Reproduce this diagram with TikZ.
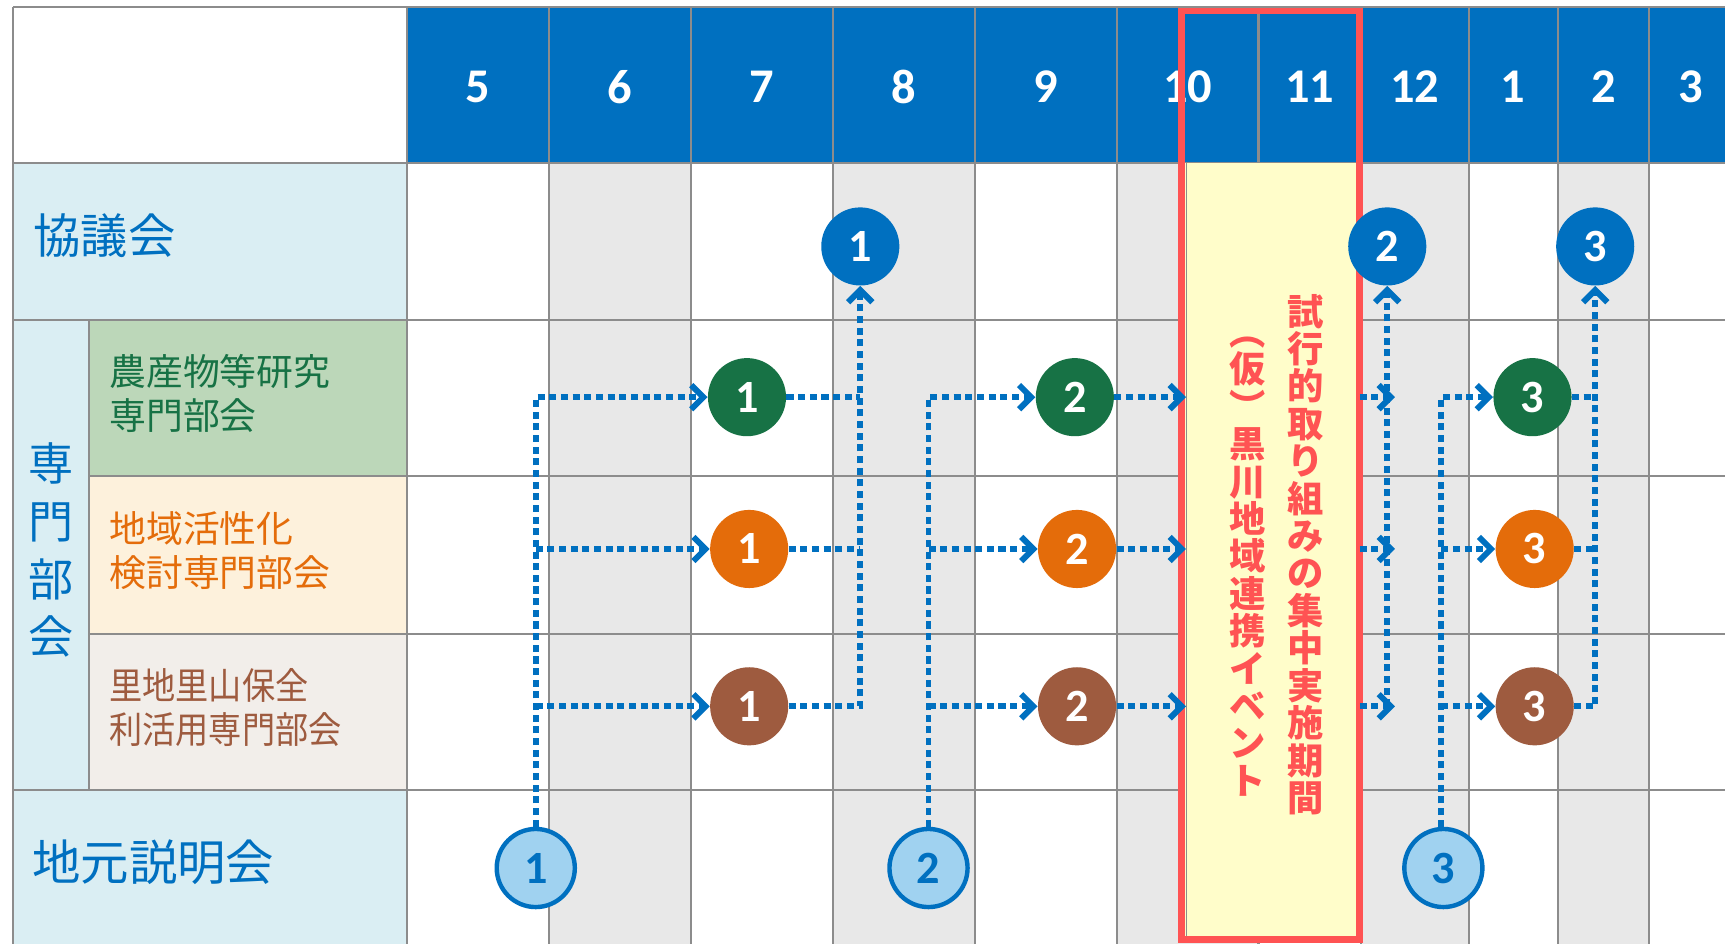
\documentclass[tikz,border=0pt]{standalone}
\usepackage{fontspec}
\newfontfamily\jp{Noto Sans CJK JP}
\newfontfamily\num{Carlito}
\usetikzlibrary{arrows.meta}
\definecolor{hdrblue}{HTML}{0070C0}
\definecolor{gridgray}{HTML}{8C8C8C}
\definecolor{colgray}{HTML}{E8E8E8}
\definecolor{lblue}{HTML}{DAEEF3}
\definecolor{lgreen}{HTML}{BCD7B9}
\definecolor{dgreen}{HTML}{177245}
\definecolor{lorange}{HTML}{FDF1DC}
\definecolor{dorange}{HTML}{E46C0A}
\definecolor{lbrown}{HTML}{F2EEEA}
\definecolor{dbrown}{HTML}{9E5B3F}
\definecolor{cblue}{HTML}{A0D2F0}
\definecolor{pyellow}{HTML}{FFFDCA}
\definecolor{pred}{HTML}{FF5353}
\begin{document}
\begin{tikzpicture}[x=0.5pt,y=-0.5pt,
  gridline/.style={draw=gridgray,line width=1pt},
  mnum/.style={text=white,inner sep=0pt,font=\num\bfseries\fontsize{22}{24}\selectfont},
  mdot/.style={circle,minimum size=35.5pt,inner sep=0pt,text=white,font=\num\bfseries\fontsize{21}{24}\selectfont},
  kyo/.style={mdot,fill=hdrblue},
  grn/.style={mdot,fill=dgreen},
  org/.style={mdot,fill=dorange},
  brn/.style={mdot,fill=dbrown},
  locdot/.style={mdot,fill=cblue,draw=hdrblue,line width=2pt,text=hdrblue},
  conn/.style={draw=hdrblue,line width=2.7pt,dash pattern=on 3.2pt off 2.1pt},
  arr/.style={-{Straight Barb[length=5.5pt,width=11pt]}},
  lbl/.style={anchor=west,inner sep=0pt,align=left},
  ptext/.style={text=pred,inner sep=0pt,align=center,font=\jp\bfseries\fontsize{16.5}{17}\selectfont},
]
\useasboundingbox (0,0) rectangle (1568,858);
\fill[white] (0,0) rectangle (1568,858);
% column shading
\foreach \a/\b in {499/628,757/886,1015/1144,1237/1335,1416/1499}
  \fill[colgray] (\a,148) rectangle (\b,858);
% header
\fill[hdrblue] (370,6) rectangle (1568,148);
% label cells
\fill[lblue] (12,148) rectangle (370,291);
\fill[lblue] (12,291) rectangle (81,718);
\fill[lgreen] (81,291) rectangle (370,433);
\fill[lorange] (81,433) rectangle (370,576);
\fill[lbrown] (81,576) rectangle (370,718);
\fill[lblue] (12,718) rectangle (370,858);
% grid
\foreach \y in {6,148,291,718} \draw[gridline] (12,\y) -- (1568,\y);
\foreach \y in {433,576} \draw[gridline] (81,\y) -- (1568,\y);
\foreach \x in {12,370,499,628,757,886,1015,1144,1237,1335,1416,1499} \draw[gridline] (\x,6) -- (\x,858);
\draw[gridline] (81,291) -- (81,718);
% month numbers
\node[mnum] (m5) at (434.5,79) {5};
\node[mnum] (m6) at (563.5,79) {6};
\node[mnum] (m7) at (692.5,79) {7};
\node[mnum] (m8) at (821.5,79) {8};
\node[mnum] (m9) at (950.5,79) {9};
\node[mnum] (m10) at (1079.5,79) {10};
\node[mnum] (m11) at (1190.5,79) {11};
\node[mnum] (m12) at (1286,79) {12};
\node[mnum] (m1) at (1375.5,79) {1};
\node[mnum] (m2) at (1457.5,79) {2};
\node[mnum] (m3) at (1537,79) {3};
% period
\fill[pyellow] (1074,148) rectangle (1236,854);
\draw[gridgray,line width=0.5pt] (1078.5,148) -- (1078.5,851);
\node[draw=pred,line width=3pt,outer sep=0pt,inner sep=0pt,minimum width=81pt,minimum height=422pt] (per) at (1155,432) {};
\node[ptext] (pt1) at (1187,504) {\vphantom{国}試\\行\\的\\取\\り\\組\\み\\の\\集\\中\\実\\施\\期\\\vphantom{国}間};
\node[ptext] (pt2) at (1134,506) {\vphantom{国}︵\\仮\\︶\\黒\\川\\地\\域\\連\\携\\イ\\ベ\\ン\\\vphantom{国}ト};
% labels
\node[lbl,text=hdrblue,font=\jp\fontsize{21.5}{26}\selectfont] (kyogi) at (30,214.5) {協議会};
\node[lbl,text=hdrblue,font=\jp\fontsize{22}{26}\selectfont] (jimoto) at (29,784) {地元説明会};
\node[inner sep=0pt,align=center,text=hdrblue,font=\jp\fontsize{20.5}{26.25}\selectfont] (senmon) at (46.5,500) {専\\門\\部\\会};
\node[lbl,text=dgreen,font=\jp\fontsize{16.75}{20}\selectfont] (nousan) at (99,358) {農産物等研究\\専門部会};
\node[lbl,text=dorange,font=\jp\fontsize{16.75}{20}\selectfont] (chiiki) at (99,500.5) {地域活性化\\検討専門部会};
\node[lbl,text=dbrown,font=\jp\fontsize{16.75}{20}\selectfont] (satochi) at (99,643.5) {\scalebox{0.9}[1]{里地里山保全}\\\scalebox{0.9}[1]{利活用専門部会}};
% meeting circles
\node[kyo] (K1) at (782,224) {1};
\node[kyo] (K2) at (1261,224) {2};
\node[kyo] (K3) at (1450,224) {3};
\node[grn] (G1) at (679,361) {1};
\node[grn] (G2) at (977,361) {2};
\node[grn] (G3) at (1393,361) {3};
\node[org] (O1) at (681,499) {1};
\node[org] (O2) at (979,499) {2};
\node[org] (O3) at (1395,499) {3};
\node[brn] (B1) at (681,642) {1};
\node[brn] (B2) at (979,642) {2};
\node[brn] (B3) at (1395,642) {3};
\node[locdot] (L1) at (487,789) {1};
\node[locdot] (L2) at (844,789) {2};
\node[locdot] (L3) at (1312,789) {3};
% connectors
\draw[conn,arr] (L1.north) |- (G1.west);
\draw[conn,arr] (L1.north |- O1.west) -- (O1.west);
\draw[conn,arr] (L1.north |- B1.west) -- (B1.west);
\draw[conn] (G1.east) -- (G1.east -| K1.south);
\draw[conn] (O1.east) -- (O1.east -| K1.south);
\draw[conn,arr] (B1.east) -| (K1.south);
\draw[conn,arr] (L2.north) |- (G2.west);
\draw[conn,arr] (L2.north |- O2.west) -- (O2.west);
\draw[conn,arr] (L2.north |- B2.west) -- (B2.west);
\draw[conn,arr] (G2.east) -- ([xshift=2pt]per.west |- G2.east);
\draw[conn,arr] (O2.east) -- ([xshift=2pt]per.west |- O2.east);
\draw[conn,arr] (B2.east) -- ([xshift=2pt]per.west |- B2.east);
\draw[conn,arr] (per.east |- G2.east) -- ([xshift=3.5pt]K2.south |- G2.east);
\draw[conn,arr] (per.east |- O2.east) -- ([xshift=3.5pt]K2.south |- O2.east);
\draw[conn,arr] (per.east |- B2.east) -- ([xshift=3.5pt]K2.south |- B2.east);
\draw[conn,arr] (K2.south |- B2.east) -- (K2.south);
\draw[conn,arr] ([xshift=-1pt]L3.north) |- (G3.west);
\draw[conn,arr] ([xshift=-1pt]L3.north |- O3.west) -- (O3.west);
\draw[conn,arr] ([xshift=-1pt]L3.north |- B3.west) -- (B3.west);
\draw[conn] (G3.east) -- (G3.east -| K3.south);
\draw[conn] (O3.east) -- (O3.east -| K3.south);
\draw[conn,arr] (B3.east) -| (K3.south);
\end{tikzpicture}
\end{document}
